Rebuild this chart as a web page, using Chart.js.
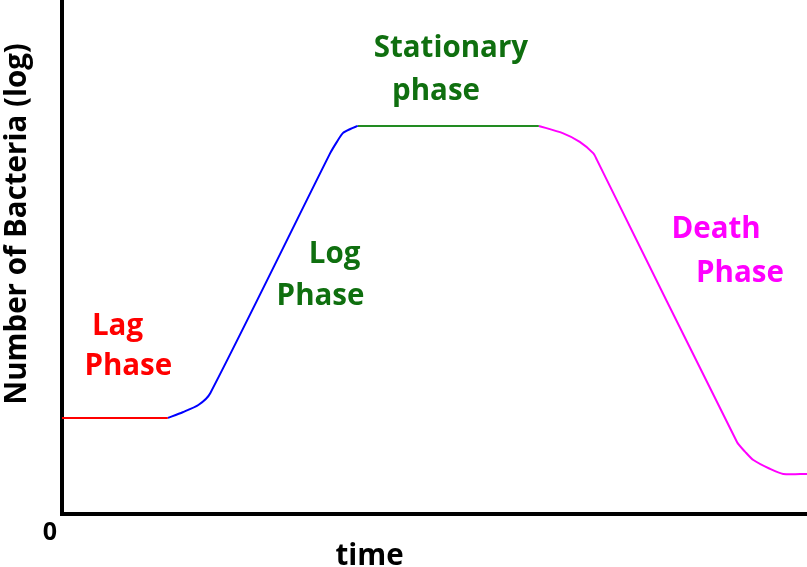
<!DOCTYPE html>
<html>
<head>
<meta charset="utf-8">
<script src="https://cdn.jsdelivr.net/npm/chart.js@4/dist/chart.umd.min.js"></script>
<style>
  html, body { margin: 0; padding: 0; background: #fff; }
  #wrap { width: 807px; height: 567px; position: relative; }
</style>
</head>
<body>
<div id="wrap"><canvas id="growth"></canvas></div>
<script>
// bacterial growth curve, x = time, y = log(number of bacteria)
const lagX = [0, 14.2];
const lagY = [18.7, 18.7];
const logX = [14.2, 16.2, 18.3, 19.9, 36.0, 36.9, 37.7, 38.7, 39.7];
const logY = [18.7, 19.8, 21.2, 23.5, 70.2, 72.4, 74.1, 74.9, 75.5];
const statX = [39.7, 64.0];
const statY = [75.5, 75.5];
const deathX = [64.0, 67.2, 69.5, 71.3, 71.8, 90.6, 91.7, 92.8, 95.0, 96.8, 100];
const deathY = [75.5, 74.1, 72.4, 70.2, 68.9, 14.0, 12.1, 10.5, 8.8, 7.8, 7.8];

const phaseNames = ['Lag Phase', 'Log Phase', 'Stationary phase', 'Death Phase'];
const phaseColors = ['#ff0000', '#0000ff', '#228b22', '#ff00ff'];
const textColors = ['#ff0000', '#0f6f0f', '#0f6f0f', '#ff00ff'];

const FONT = "'Open Sans', 'Noto Sans', sans-serif";

function pts(xs, ys) {
  return xs.map((x, i) => ({ x: x, y: ys[i] }));
}

// label anchors in data units (centre x, baseline y), one per word
const labelSpots = [
  [[7.45, 34.8], [8.9, 27.0]],
  [[36.6, 48.8], [34.7, 40.7]],
  [[52.2, 88.9], [50.2, 80.5]],
  [[87.8, 53.7], [91.0, 45.1]]
];

const textPlugin = {
  id: 'phaseText',
  afterDraw(chart) {
    const ctx = chart.ctx;
    const xs = chart.scales.x, ys = chart.scales.y;
    ctx.save();
    ctx.textAlign = 'center';
    ctx.textBaseline = 'alphabetic';
    ctx.font = 'bold 29.5px ' + FONT;
    phaseNames.forEach((name, i) => {
      const words = name.split(' ');
      ctx.fillStyle = textColors[i];
      words.forEach((w, j) => {
        const p = labelSpots[i][j];
        ctx.fillText(w, xs.getPixelForValue(p[0]), ys.getPixelForValue(p[1]));
      });
    });

    ctx.fillStyle = '#000';
    // x axis title
    ctx.fillText('time', 369.5, 565);

    // zero at origin
    ctx.font = 'bold 25px ' + FONT;
    ctx.fillText('0', xs.left - 12, ys.bottom + 26);

    // y axis title
    ctx.translate(26, 224);
    ctx.rotate(-Math.PI / 2);
    ctx.font = 'bold 29.5px ' + FONT;
    ctx.fillText('Number of Bacteria (log)', 0, 0);
    ctx.restore();
  }
};

new Chart(document.getElementById('growth'), {
  type: 'line',
  data: {
    datasets: [
      { label: phaseNames[0], data: pts(lagX, lagY), borderColor: phaseColors[0], tension: 0 },
      { label: phaseNames[1], data: pts(logX, logY), borderColor: phaseColors[1] },
      { label: phaseNames[2], data: pts(statX, statY), borderColor: phaseColors[2], tension: 0 },
      { label: phaseNames[3], data: pts(deathX, deathY), borderColor: phaseColors[3] }
    ]
  },
  options: {
    responsive: true,
    maintainAspectRatio: false,
    animation: false,
    layout: { padding: 0 },
    elements: {
      point: { radius: 0 },
      line: { borderWidth: 2, tension: 0.25, fill: false }
    },
    plugins: {
      legend: { display: false },
      tooltip: { enabled: false }
    },
    scales: {
      x: {
        type: 'linear',
        min: 0,
        max: 100,
        grid: { display: false },
        border: { display: true, color: '#000', width: 4 },
        ticks: { display: false },
        afterFit(s) { s.height = 53; }
      },
      y: {
        min: 0,
        max: 100,
        grid: { display: false },
        border: { display: true, color: '#000', width: 4 },
        ticks: { display: false },
        afterFit(s) { s.width = 62; }
      }
    }
  },
  plugins: [textPlugin]
});
</script>
</body>
</html>
